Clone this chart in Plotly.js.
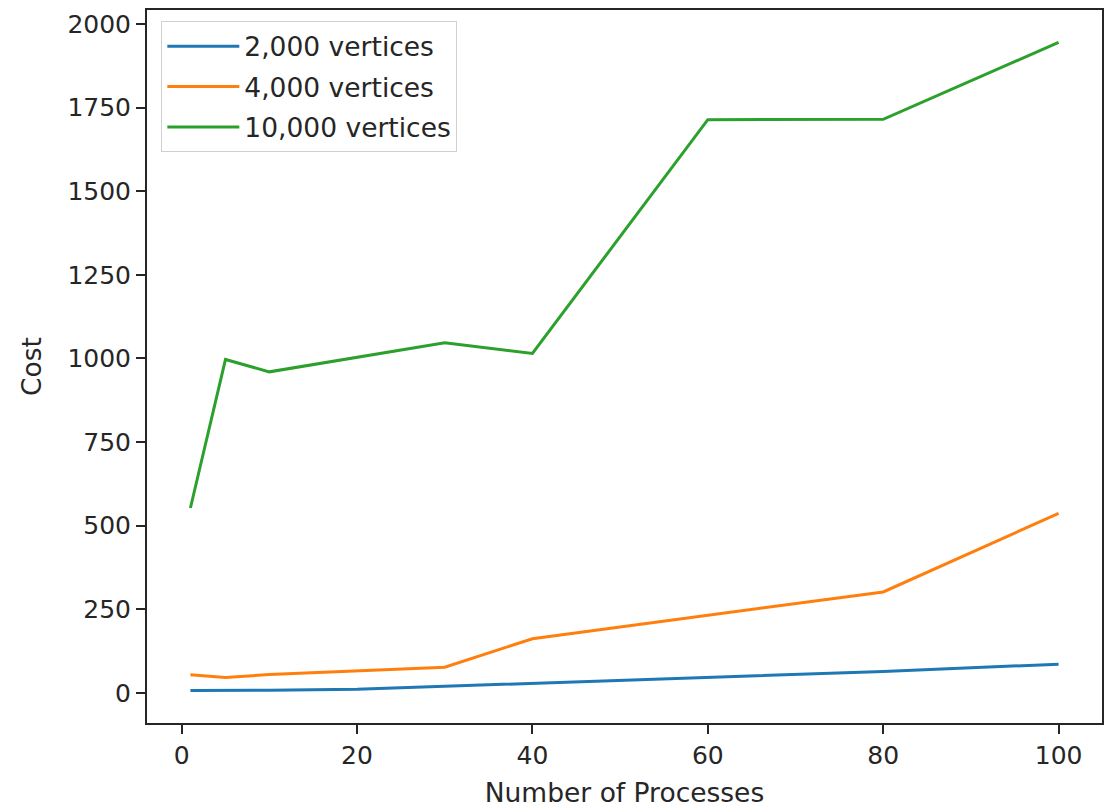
<!DOCTYPE html>
<html>
<head>
<meta charset="utf-8">
<script src="https://cdn.plot.ly/plotly-3.0.1.min.js"></script>
<style>
  html, body { margin: 0; padding: 0; background: #fff; }
  #chart { width: 1115px; height: 808px; }
</style>
</head>
<body>
<div id="chart"></div>
<script>
// Number of processes (x values)
const processes = [1, 5, 10, 20, 30, 40, 60, 80, 100];

// Cost for each graph size
const cost2000 = [7, 7, 8, 11, 20, 27, 46, 64, 86];
const cost4000 = [54, 46, 55, 65, 77, 162, 232, 302, 537];
const cost10000 = [553, 997, 960, 1004, 1047, 1015, 1714, 1715, 1945];

const seriesNames = ["2,000 vertices", "4,000 vertices", "10,000 vertices"];
const seriesColors = ["#1f77b4", "#ff7f0e", "#2ca02c"];

const xTickVals = [0, 20, 40, 60, 80, 100];
const yTickVals = [0, 250, 500, 750, 1000, 1250, 1500, 1750, 2000];

const xTitle = "Number of Processes";
const yTitle = "Cost";

const allY = [cost2000, cost4000, cost10000];
const traces = allY.map((ys, i) => ({
  type: "scatter",
  mode: "lines",
  x: processes,
  y: ys,
  name: seriesNames[i],
  legendgroup: "g" + i,
  line: { color: seriesColors[i], width: 3 }
}));

// matplotlib-like 5% margins
const xmin = Math.min(...processes), xmax = Math.max(...processes);
const flat = [].concat(...allY);
const ymin = Math.min(...flat), ymax = Math.max(...flat);
const xpad = (xmax - xmin) * 0.05, ypad = (ymax - ymin) * 0.05;

const fontFamily = "DejaVu Sans, sans-serif";
const textColor = "#262626";

const axisCommon = {
  showgrid: false,
  zeroline: false,
  showline: true,
  linecolor: "#262626",
  linewidth: 2,
  mirror: true,
  ticks: "outside",
  ticklen: 9,
  tickwidth: 2,
  tickcolor: "#262626",
  tickfont: { family: fontFamily, size: 25, color: textColor }
};

const layout = {
  width: 1115,
  height: 808,
  paper_bgcolor: "#ffffff",
  plot_bgcolor: "#ffffff",
  margin: { l: 147, r: 13, t: 10, b: 85 },
  showlegend: true,
  legend: {
    x: 0.015, y: 0.984, xanchor: "left", yanchor: "top",
    bgcolor: "rgba(255,255,255,0.8)",
    bordercolor: "#d0d0d0",
    borderwidth: 1,
    font: { family: fontFamily, size: 26.5, color: textColor },
    traceorder: "grouped",
    tracegroupgap: 3,
    itemwidth: 72
  },
  xaxis: Object.assign({}, axisCommon, {
    range: [xmin - xpad, xmax + xpad],
    tickmode: "array",
    tickvals: xTickVals,
    title: { text: xTitle, font: { family: fontFamily, size: 26.5, color: textColor }, standoff: 14 }
  }),
  yaxis: Object.assign({}, axisCommon, {
    range: [ymin - ypad, ymax + ypad],
    tickmode: "array",
    tickvals: yTickVals,
    title: { text: yTitle, font: { family: fontFamily, size: 26.5, color: textColor }, standoff: 18 }
  })
};

Plotly.newPlot("chart", traces, layout, { displayModeBar: false, staticPlot: true });
</script>
</body>
</html>
